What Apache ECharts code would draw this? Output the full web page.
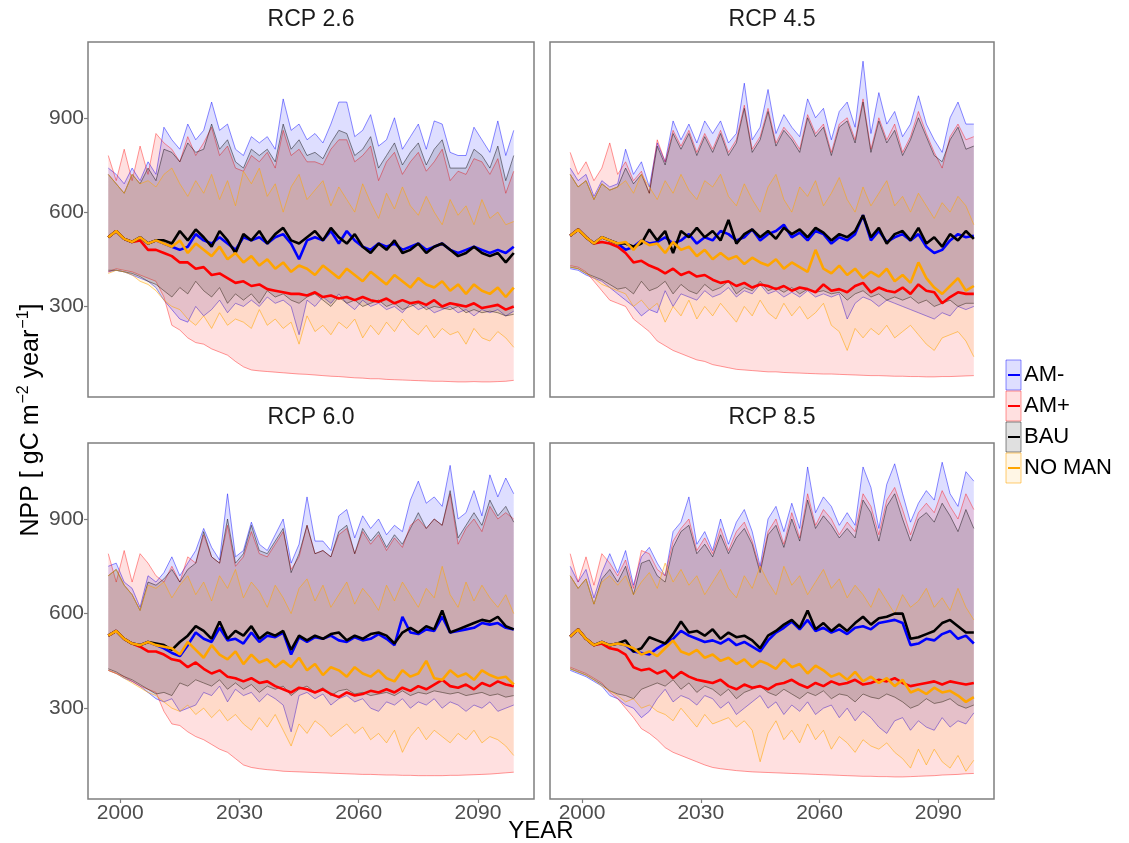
<!DOCTYPE html>
<html><head><meta charset="utf-8">
<script src="https://cdn.jsdelivr.net/npm/echarts@6/dist/echarts.min.js"></script>
<style>html,body{margin:0;padding:0;background:#fff}#c{width:1129px;height:843px}</style>
</head><body><div id="c"></div>
<script>
// ---------- categories / tick labels ----------
const YEARS = [1997,1999,2001,2003,2005,2007,2009,2011,2013,2015,2017,2019,2021,2023,2025,2027,2029,2031,2033,2035,2037,2039,2041,2043,2045,2047,2049,2051,2053,2055,2057,2059,2061,2063,2065,2067,2069,2071,2073,2075,2077,2079,2081,2083,2085,2087,2089,2091,2093,2095,2097,2099];
const X_TICKS = [2000, 2030, 2060, 2090];
const Y_TICKS = [300, 600, 900];
const PANEL_TITLES = ['RCP 2.6', 'RCP 4.5', 'RCP 6.0', 'RCP 8.5'];
const SCENARIOS = ['AM-', 'AM+', 'BAU', 'NO MAN'];

// ---------- RCP 2.6 ----------
const rcp26_amMinus_max = [740,720,690,740,700,760,720, 870,830,800,880,830,860,950,860,880,800, 780,840,820,840,800,960,860,880,830,850, 820,880,950,950,840,860,910,810,830,900, 800,840,880,800,890,880,790,780,780,870, 830,790,890,780,860];
const rcp26_amMinus_mean = [520,540,515,505,520,500,510, 500,490,480,490,530,510,500,520,500,480, 520,510,520,500,520,530,500,450,510,520, 510,540,500,540,510,490,480,500,490,500, 480,490,500,480,490,500,480,470,480,490, 480,470,480,470,490];
const rcp26_amMinus_min = [410,415,410,400,390,380,360, 320,290,260,250,300,270,290,320,280,310, 300,320,300,330,310,320,300,210,320,300, 330,310,340,310,290,320,300,310,290,300, 280,310,290,300,280,290,300,280,290,270, 290,280,290,270,285];
const rcp26_amPlus_max = [780,700,800,700,810,720,850, 820,800,760,840,780,820,870,780,810,740, 730,780,760,790,740,860,780,800,760,760, 750,800,830,830,760,780,810,700,760,790, 720,760,790,730,760,800,700,730,720,770, 760,720,770,660,730];
const rcp26_amPlus_mean = [520,540,515,505,510,480,480, 470,460,440,440,420,425,400,405,390,375, 380,365,370,355,350,345,340,340,335,345, 330,335,325,330,320,330,320,315,325,310, 320,310,315,305,320,300,310,305,300,310, 295,300,305,290,300];
const rcp26_amPlus_min = [410,420,415,410,400,390,380, 330,240,225,200,185,180,165,155,145,125, 108,98,95,93,91,89,87,85,84,82, 80,78,77,75,73,72,70,70,68,67, 66,65,64,63,62,62,61,60,60,61, 60,60,61,62,65];
const rcp26_bau_max = [720,690,660,720,690,740,700, 800,790,760,820,790,800,880,800,830,760, 740,800,780,800,760,880,800,830,780,790, 770,820,860,850,780,800,840,740,780,820, 750,790,820,750,800,830,740,740,740,800, 780,740,810,700,780];
const rcp26_bau_mean = [520,540,515,505,520,500,510, 510,500,540,510,545,520,490,540,510,470, 530,510,540,500,530,550,510,500,520,540, 510,550,520,500,530,490,470,500,480,510, 470,480,500,470,490,500,480,460,470,490, 470,460,470,440,470];
const rcp26_bau_min = [415,415,410,405,395,380,370, 350,330,360,340,380,350,330,360,310,340, 320,340,310,350,330,340,320,310,330,340, 320,300,330,310,320,300,310,320,300,310, 290,300,310,290,300,295,290,300,280,290, 280,285,280,270,275];
const rcp26_noMan_max = [720,690,660,720,690,700,680, 720,740,690,650,700,660,720,640,700,620, 730,690,740,650,690,600,680,720,640,670, 700,620,680,640,600,690,630,580,660,610, 680,620,590,650,600,560,640,590,620,560, 640,580,600,560,570];
const rcp26_noMan_mean = [520,540,515,505,520,500,510, 500,490,510,470,500,480,460,490,450,470, 440,460,430,450,420,440,410,430,420,400, 430,410,390,420,400,380,410,390,370,400, 380,360,390,370,360,380,350,370,340,370, 350,340,360,330,360];
const rcp26_noMan_min = [405,415,410,400,380,370,350, 320,300,290,260,240,270,230,280,240,260, 250,230,290,240,260,230,250,180,270,220, 240,210,250,230,260,200,240,210,250,220, 260,230,210,240,200,230,210,220,180,230, 200,190,220,200,170];

// ---------- RCP 4.5 ----------
const rcp45_amMinus_max = [740,700,720,650,700,680,690, 800,720,760,680,820,760,890,830,880,820, 890,850,890,820,850,1010,830,870,990,850, 910,870,840,960,900,930,830,920,950,870, 1080,850,980,880,920,840,880,970,880,830, 790,900,950,880,880];
const rcp45_amMinus_mean = [525,545,520,500,520,510,500, 480,490,510,500,505,520,500,510,530,500, 520,510,540,530,510,520,545,510,530,540, 560,520,535,510,540,530,500,520,510,530, 590,510,540,505,520,530,510,530,490,470, 480,510,530,520,525];
const rcp45_amMinus_min = [420,415,400,390,380,360,340, 320,300,270,290,280,350,300,340,330,320, 350,330,340,360,330,350,340,370,340,350, 330,345,330,350,330,340,330,340,260,310, 330,320,300,320,310,300,290,280,270,260, 280,270,300,290,300];
const rcp45_amPlus_max = [790,720,760,700,740,820,720, 760,700,730,660,830,760,860,810,860,790, 850,800,860,790,830,940,800,840,930,820, 870,840,800,910,850,880,790,880,900,830, 960,800,900,830,880,790,840,920,850,790, 740,840,880,830,840];
const rcp45_amPlus_mean = [525,545,520,500,505,500,490, 470,440,445,430,420,405,420,400,410,395, 400,385,375,380,365,375,360,370,365,355, 365,350,360,355,345,370,350,355,345,365, 375,345,360,350,345,360,340,370,350,345, 310,330,345,340,340];
const rcp45_amPlus_min = [430,425,410,380,350,320,310, 300,260,240,220,190,175,160,150,140,130, 125,115,110,105,100,98,96,94,92,92, 90,89,88,87,86,85,85,84,83,82, 81,80,80,79,78,78,77,77,76,76, 77,77,78,79,80];
const rcp45_bau_max = [720,680,700,640,690,670,680, 740,690,720,660,810,750,850,800,850,780, 840,790,850,780,820,930,790,830,920,810, 860,830,790,900,840,870,780,870,890,820, 950,790,890,820,860,780,830,900,840,780, 760,830,870,800,810];
const rcp45_bau_mean = [525,545,520,500,520,510,500, 500,490,500,545,510,540,470,540,520,550, 520,540,510,575,500,530,545,520,540,515, 550,530,545,520,550,535,510,530,520,540, 590,520,550,500,530,540,510,550,500,520, 490,530,510,540,515];
const rcp45_bau_min = [425,420,405,395,385,370,355, 360,340,380,350,360,380,340,370,350,340, 370,350,360,380,340,360,350,380,350,360, 345,360,340,355,345,350,340,345,320,340, 350,330,340,320,330,320,330,310,320,300, 310,320,300,310,310];
const rcp45_noMan_max = [720,680,700,640,690,670,680, 700,660,720,680,640,700,660,720,670,640, 700,680,720,650,620,690,640,600,680,720, 640,600,680,650,700,620,660,710,640,600, 680,620,660,700,620,650,600,660,620,580, 630,600,650,620,560];
const rcp45_noMan_mean = [525,545,520,500,520,510,500, 505,480,510,495,500,470,505,480,490,460, 480,450,470,450,460,435,455,440,430,450, 420,440,425,410,480,420,405,430,400,420, 390,410,395,420,380,400,375,440,390,360, 340,365,390,350,365];
const rcp45_noMan_min = [425,420,405,390,370,360,350, 340,300,320,290,310,250,300,270,320,260, 300,270,310,280,250,300,270,320,280,260, 310,270,300,260,280,310,240,220,160,230, 200,230,210,240,200,220,240,210,180,160, 200,210,220,190,140];

// ---------- RCP 6.0 ----------
const rcp60_amMinus_max = [750,760,700,680,620,720,700, 730,780,720,760,800,870,810,770,980,780, 800,890,820,800,850,900,760,820,970,830, 830,800,910,930,840,910,870,900,850,880, 860,960,1020,950,970,940,1070,900,920,990, 910,1040,970,1030,980];
const rcp60_amMinus_mean = [530,545,520,505,500,510,500, 490,475,465,500,540,520,510,555,515,520, 505,540,510,530,525,540,470,525,510,525, 520,530,515,510,525,515,520,535,520,500, 590,540,535,550,545,590,540,545,550,555, 570,565,570,555,550];
const rcp60_amMinus_min = [420,410,395,385,370,350,330, 320,330,290,300,310,350,340,370,320,360, 340,350,320,345,330,310,225,340,350,330, 345,310,330,340,320,330,300,290,320,310, 330,300,320,310,330,300,320,310,290,310, 300,320,290,300,310];
const rcp60_amPlus_max = [790,700,800,700,790,760,720, 700,750,700,780,760,850,780,760,880,750, 780,860,790,780,820,860,740,780,880,790, 800,780,850,870,790,860,820,850,800,840, 810,880,900,870,900,880,980,820,870,900, 860,940,900,920,900];
const rcp60_amPlus_mean = [530,545,520,505,495,480,480, 470,455,450,430,445,425,410,420,400,395, 385,395,380,385,370,360,350,365,360,350, 360,345,335,350,340,345,355,350,360,350, 365,355,370,360,375,390,370,365,375,360, 380,370,385,375,370];
const rcp60_amPlus_min = [420,410,400,385,370,360,350, 290,250,245,225,210,200,185,170,160,140, 120,112,108,105,103,100,99,98,97,96, 95,94,93,92,91,90,90,89,88,88, 87,87,86,86,86,86,87,87,88,89, 90,91,93,95,97];
const rcp60_bau_max = [720,740,690,660,610,700,690, 710,740,700,740,760,860,780,760,900,760, 790,880,800,790,830,870,730,790,880,790, 800,780,860,880,790,870,830,860,810,850, 820,870,920,870,900,880,990,840,880,920, 880,960,910,940,890];
const rcp60_bau_mean = [530,545,520,505,500,510,505, 500,485,510,530,560,545,520,575,520,545, 530,560,520,540,530,545,485,530,515,530, 520,535,540,515,530,520,535,540,530,505, 540,555,540,560,550,610,540,550,560,570, 580,575,590,560,550];
const rcp60_bau_min = [425,415,400,390,375,360,345, 350,340,380,370,390,380,370,390,360,380, 360,375,350,370,360,370,340,360,370,350, 365,340,355,360,345,350,340,345,350,340, 355,340,350,345,355,350,345,350,340,345, 350,340,345,335,340];
const rcp60_noMan_max = [720,740,690,660,610,690,680, 700,650,690,720,660,700,640,720,680,740, 650,700,670,620,690,650,600,680,710,640, 690,620,660,700,630,680,650,610,690,640, 700,660,620,680,650,750,660,620,700,640, 690,650,620,660,600];
const rcp60_noMan_mean = [530,545,520,505,500,510,500, 495,490,470,510,485,460,500,470,455,480, 440,470,445,455,430,450,430,460,420,440, 405,430,420,400,430,410,400,420,395,385, 420,400,410,450,395,390,420,400,410,390, 420,405,395,400,375];
const rcp60_noMan_min = [420,410,395,380,365,350,340, 320,300,290,310,280,300,270,295,260,280, 250,230,270,240,280,230,180,250,220,260, 240,210,230,250,220,240,200,220,190,230, 160,210,240,200,230,210,190,220,200,230, 190,210,200,180,150];

// ---------- RCP 8.5 ----------
const rcp85_amMinus_max = [750,700,740,650,730,790,730, 800,690,780,810,760,720,860,890,970,820, 860,800,900,820,890,930,860,750,900,940, 860,950,870,1065,920,970,940,880,920,880, 1065,1000,870,1010,1075,980,890,950,990,960, 1080,980,940,1050,1020];
const rcp85_amMinus_mean = [527,550,520,500,510,500,505, 500,480,475,470,490,505,520,545,530,520, 510,515,505,520,500,510,495,480,515,540, 555,575,550,580,545,555,540,550,535,555, 560,550,570,575,580,570,500,505,520,515, 535,545,520,530,505];
const rcp85_amMinus_min = [420,410,400,385,370,340,330, 310,300,270,290,330,360,320,340,330,310, 340,330,300,320,280,300,320,340,300,320, 280,310,290,320,280,300,310,270,300,260, 290,270,240,220,260,270,230,260,240,230, 270,240,260,250,285];
const rcp85_amPlus_max = [790,700,780,690,790,760,720, 770,680,800,790,740,720,830,870,900,800, 840,790,870,800,860,890,830,740,860,900, 820,920,840,980,880,930,900,850,890,860, 980,940,850,960,1000,930,850,920,950,920, 990,940,900,980,930];
const rcp85_amPlus_mean = [527,550,520,500,505,490,485, 470,430,420,425,410,420,395,415,400,390, 385,380,390,370,360,375,365,370,360,375, 380,390,375,365,380,370,385,375,380,390, 375,380,390,385,395,380,370,375,380,385, 375,385,380,375,380];
const rcp85_amPlus_min = [430,420,410,395,380,350,330, 300,270,235,220,200,175,160,150,140,130, 120,112,108,105,102,100,98,97,96,95, 94,93,92,91,90,89,88,87,86,85, 84,84,83,83,82,82,83,84,85,86, 88,89,90,92,93];
const rcp85_bau_max = [720,680,710,630,710,740,700, 750,660,760,770,720,700,810,860,880,790, 820,780,850,790,840,870,820,730,850,880, 810,900,830,960,870,910,880,840,870,840, 960,920,830,940,980,900,830,900,920,890, 950,910,860,930,870];
const rcp85_bau_mean = [527,550,520,500,510,500,505, 515,480,490,525,515,505,535,575,540,545, 530,550,520,540,525,530,515,490,530,545, 565,580,555,610,550,570,545,565,545,570, 590,565,585,590,600,600,520,525,535,545, 570,580,560,540,540];
const rcp85_bau_min = [425,415,405,390,375,355,345, 340,330,360,370,380,370,390,360,380,350, 370,360,340,360,330,350,360,370,350,340, 360,345,330,350,340,355,330,345,340,320, 345,335,330,345,335,320,300,310,330,315, 320,330,310,300,310];
const rcp85_noMan_max = [720,680,710,630,700,720,690, 720,660,700,730,680,760,700,740,690,720, 660,700,740,680,650,720,680,750,700,660, 750,690,720,660,700,740,680,710,650,690, 660,620,680,640,600,660,620,640,680,620, 650,610,680,620,580];
const rcp85_noMan_mean = [527,550,520,500,510,500,505, 500,490,470,480,465,490,515,480,470,485, 460,470,450,460,440,455,430,450,440,425, 455,430,440,410,435,420,400,410,390,415, 385,400,380,395,370,390,350,360,345,365, 350,355,340,320,335];
const rcp85_noMan_min = [425,415,405,390,370,355,340, 320,330,300,310,290,280,260,300,270,240, 280,250,260,270,240,260,230,130,220,260, 200,230,190,250,200,230,170,210,190,160, 200,180,170,190,160,140,110,170,120,170, 130,110,150,100,135];

// ---------- assemble ----------
const PANEL_DATA = [
  {'AM-':[rcp26_amMinus_min,rcp26_amMinus_mean,rcp26_amMinus_max],'AM+':[rcp26_amPlus_min,rcp26_amPlus_mean,rcp26_amPlus_max],'BAU':[rcp26_bau_min,rcp26_bau_mean,rcp26_bau_max],'NO MAN':[rcp26_noMan_min,rcp26_noMan_mean,rcp26_noMan_max]},
  {'AM-':[rcp45_amMinus_min,rcp45_amMinus_mean,rcp45_amMinus_max],'AM+':[rcp45_amPlus_min,rcp45_amPlus_mean,rcp45_amPlus_max],'BAU':[rcp45_bau_min,rcp45_bau_mean,rcp45_bau_max],'NO MAN':[rcp45_noMan_min,rcp45_noMan_mean,rcp45_noMan_max]},
  {'AM-':[rcp60_amMinus_min,rcp60_amMinus_mean,rcp60_amMinus_max],'AM+':[rcp60_amPlus_min,rcp60_amPlus_mean,rcp60_amPlus_max],'BAU':[rcp60_bau_min,rcp60_bau_mean,rcp60_bau_max],'NO MAN':[rcp60_noMan_min,rcp60_noMan_mean,rcp60_noMan_max]},
  {'AM-':[rcp85_amMinus_min,rcp85_amMinus_mean,rcp85_amMinus_max],'AM+':[rcp85_amPlus_min,rcp85_amPlus_mean,rcp85_amPlus_max],'BAU':[rcp85_bau_min,rcp85_bau_mean,rcp85_bau_max],'NO MAN':[rcp85_noMan_min,rcp85_noMan_mean,rcp85_noMan_max]}
];

const STYLE = {
  'AM-':    {line:'#0000ff', edge:'rgba(0,0,255,0.45)',   fill:'rgba(0,0,255,0.13)'},
  'AM+':    {line:'#ff0000', edge:'rgba(255,0,0,0.40)',   fill:'rgba(255,0,0,0.12)'},
  'BAU':    {line:'#000000', edge:'rgba(0,0,0,0.45)',     fill:'rgba(0,0,0,0.12)'},
  'NO MAN': {line:'#ffa500', edge:'rgba(255,165,0,0.55)', fill:'rgba(255,165,0,0.10)'}
};

const FONT = '"Liberation Sans", Arial, Helvetica, sans-serif';
const LAYOUT = [
  {left:88,  top:42,  width:446, height:355, showX:false, showY:true,  titleY:20},
  {left:550, top:42,  width:444, height:355, showX:false, showY:false, titleY:20},
  {left:88,  top:443, width:446, height:356, showX:true,  showY:true,  titleY:418},
  {left:550, top:443, width:444, height:356, showX:true,  showY:false, titleY:418}
];

// ribbon (min..max band) drawn through the axes' own scales via api.coord
function ribbon(mn, mx, st) {
  return function (params, api) {
    if (params.dataIndex !== 0) return null;
    const up = YEARS.map((y, i) => api.coord([y, mx[i]]));
    const lo = YEARS.map((y, i) => api.coord([y, mn[i]]));
    return {type:'group', children:[
      {type:'polygon', shape:{points: up.concat(lo.slice().reverse())}, style:{fill:st.fill}},
      {type:'polyline', shape:{points: up}, style:{stroke:st.edge, lineWidth:1, fill:'none'}},
      {type:'polyline', shape:{points: lo}, style:{stroke:st.edge, lineWidth:1, fill:'none'}}
    ]};
  };
}

const grids = [], xAxes = [], yAxes = [], series = [], graphics = [];
LAYOUT.forEach((L, pi) => {
  grids.push({left:L.left, top:L.top, width:L.width, height:L.height, show:true,
    borderColor:'#7f7f7f', borderWidth:1.5, backgroundColor:'transparent', containLabel:false});
  xAxes.push({gridIndex:pi, type:'value', min:1991.9, max:2104.1,
    axisLine:{show:false}, splitLine:{show:false},
    axisTick:{show:L.showX, customValues:X_TICKS, length:4, lineStyle:{color:'#7f7f7f', width:1.2}},
    axisLabel:{show:L.showX, customValues:X_TICKS, formatter:v => String(v), fontSize:21, color:'#4d4d4d', margin:4, fontFamily:FONT}});
  yAxes.push({gridIndex:pi, type:'value', min:12, max:1141,
    axisLine:{show:false}, splitLine:{show:false},
    axisTick:{show:L.showY, customValues:Y_TICKS, length:4, lineStyle:{color:'#7f7f7f', width:1.2}},
    axisLabel:{show:L.showY, customValues:Y_TICKS, formatter:v => String(v), fontSize:21, color:'#4d4d4d', margin:4, fontFamily:FONT}});
  const D = PANEL_DATA[pi];
  SCENARIOS.forEach(s => {
    const [mn, , mx] = D[s];
    series.push({type:'custom', name:s + ' range', xAxisIndex:pi, yAxisIndex:pi, silent:true, z:2,
      data: YEARS.map((y, i) => [y, mn[i], mx[i]]), encode:{x:0, y:[1, 2]},
      renderItem: ribbon(mn, mx, STYLE[s])});
  });
  SCENARIOS.forEach(s => {
    const mean = D[s][1];
    series.push({type:'line', name:s, xAxisIndex:pi, yAxisIndex:pi,
      data: YEARS.map((y, i) => [y, mean[i]]), symbol:'none', silent:true, z:3,
      lineStyle:{color:STYLE[s].line, width:2.6}});
  });
  graphics.push({type:'text', x:L.left + L.width / 2, y:L.titleY,
    style:{text:PANEL_TITLES[pi], fill:'#1a1a1a', font:'23px ' + FONT, align:'center', verticalAlign:'middle'}});
});

graphics.push({type:'text', x:541, y:831,
  style:{text:'YEAR', fill:'#000', font:'24px ' + FONT, align:'center', verticalAlign:'middle'}});
graphics.push({type:'text', x:31, y:420, rotation:Math.PI / 2,
  style:{text:'NPP [ gC m{sup|\u22122} year{sup|\u22121}]', fill:'#000', fontSize:25, fontFamily:FONT,
    align:'center', verticalAlign:'middle', lineHeight:31,
    rich:{sup:{fontSize:16, fontFamily:FONT, fill:'#000', verticalAlign:'top', lineHeight:31, padding:[0,0,0,1]}}}});

const LEG_TOP = [360, 391, 422, 453];
SCENARIOS.forEach((s, k) => {
  const st = STYLE[s];
  graphics.push({type:'rect', shape:{x:1006, y:LEG_TOP[k], width:15, height:30},
    style:{fill:st.fill, stroke:st.edge, lineWidth:1}});
  graphics.push({type:'line', shape:{x1:1008, y1:LEG_TOP[k] + 15, x2:1020, y2:LEG_TOP[k] + 15},
    style:{stroke:st.line, lineWidth:2}});
  graphics.push({type:'text', x:1024, y:LEG_TOP[k] + 15,
    style:{text:s, fill:'#000', font:'22px ' + FONT, align:'left', verticalAlign:'middle'}});
});

const chart = echarts.init(document.getElementById('c'), null, {renderer:'canvas'});
chart.setOption({
  animation:false, backgroundColor:'#ffffff',
  grid:grids, xAxis:xAxes, yAxis:yAxes, series:series, graphic:graphics
});
</script></body></html>
